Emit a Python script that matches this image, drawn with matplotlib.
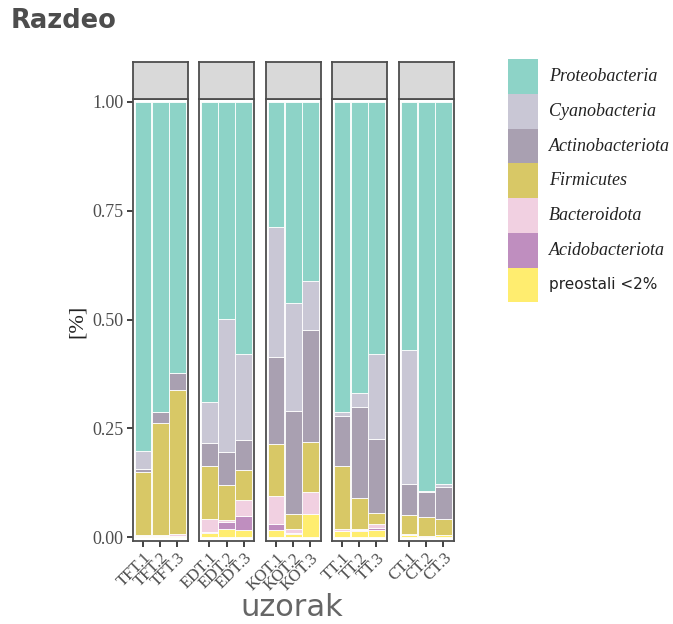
import matplotlib
matplotlib.use("Agg")
import matplotlib.pyplot as plt
from matplotlib.patches import Rectangle
import numpy as np

# ---------------- data ----------------
groups = ["TFT", "EDT", "KOT", "TT", "CT"]
samples = [[f"{g}.{i}" for i in (1, 2, 3)] for g in groups]
phyla = ["Proteobacteria", "Cyanobacteria", "Actinobacteriota", "Firmicutes",
         "Bacteroidota", "Acidobacteriota", "preostali <2%"]
colors = ["#8DD3C7", "#C9C7D5", "#A9A0B1", "#D8C866", "#F1D0E1", "#BF8EBF", "#FFED6F"]

# values per phylum (fractions), 15 samples in order TFT.1..CT.3
preostali       = [0.003, 0.002, 0.003,  0.010, 0.018, 0.016,  0.016, 0.008, 0.052,  0.013, 0.013, 0.015,  0.004, 0.001, 0.004]
acidobacteriota = [0.000, 0.000, 0.000,  0.002, 0.017, 0.033,  0.013, 0.001, 0.000,  0.000, 0.003, 0.006,  0.000, 0.000, 0.000]
bacteroidota    = [0.002, 0.003, 0.004,  0.029, 0.004, 0.035,  0.065, 0.010, 0.051,  0.005, 0.003, 0.009,  0.004, 0.001, 0.000]
firmicutes      = [0.144, 0.256, 0.331,  0.122, 0.080, 0.071,  0.120, 0.033, 0.115,  0.146, 0.071, 0.025,  0.043, 0.043, 0.037]
actinobacteriota= [0.007, 0.027, 0.038,  0.054, 0.076, 0.068,  0.200, 0.237, 0.258,  0.115, 0.209, 0.170,  0.071, 0.058, 0.073]
cyanobacteria   = [0.042, 0.000, 0.000,  0.094, 0.306, 0.197,  0.299, 0.250, 0.113,  0.008, 0.032, 0.196,  0.309, 0.003, 0.007]
proteobacteria  = [0.802, 0.712, 0.624,  0.689, 0.499, 0.580,  0.287, 0.461, 0.411,  0.713, 0.669, 0.579,  0.569, 0.894, 0.879]

stack_order = [proteobacteria, cyanobacteria, actinobacteriota, firmicutes,
               bacteroidota, acidobacteriota, preostali]
y_ticks = [0.0, 0.25, 0.5, 0.75, 1.0]
y_ticklabels = ["0.00", "0.25", "0.50", "0.75", "1.00"]

# ---------------- layout ----------------
W, H = 673, 624
fig = plt.figure(figsize=(W / 100, H / 100), dpi=100)

def fx(px):
    return px / W

def fy(py):
    return 1 - py / H

panel_x = [(133, 187.5), (199, 254), (266, 320.5), (332, 386.5), (399, 453.5)]
ptop, pbot = 99, 541
stop, sbot = 62, 98.5
border = "#4D4D4D"
txtgray = "#4D4D4D"
serif = ["Liberation Serif", "DejaVu Serif"]

ylo = (537 - 541) / 435.0
yhi = (537 - 99) / 435.0

data = np.array(stack_order)  # phyla x samples (top-to-bottom order)

for gi, (x0, x1) in enumerate(panel_x):
    ax = fig.add_axes([fx(x0), fy(pbot), fx(x1) - fx(x0), fy(ptop) - fy(pbot)])
    xs = np.arange(1, 4)
    cols = slice(gi * 3, gi * 3 + 3)
    bottom = np.zeros(3)
    for pi in range(len(phyla) - 1, -1, -1):
        vals = data[pi, cols]
        ax.bar(xs, vals, width=0.97, bottom=bottom, color=colors[pi],
               edgecolor="white", linewidth=0.6)
        bottom = bottom + vals
    ax.set_xlim(0.41, 3.59)
    ax.set_ylim(ylo, yhi)
    ax.set_xticks(xs)
    ax.set_xticklabels(samples[gi], rotation=45, ha="right", va="top",
                       rotation_mode="anchor", fontsize=12, color=txtgray,
                       family=serif)
    ax.tick_params(axis="x", length=4, width=1.3, color="#333333", pad=2.5)
    ax.set_yticks(y_ticks)
    if gi == 0:
        ax.set_yticklabels(y_ticklabels, fontsize=13, color=txtgray, family=serif)
        ax.tick_params(axis="y", length=4, width=1.3, color="#333333", pad=3)
    else:
        ax.tick_params(axis="y", length=0, labelleft=False)
    for s in ax.spines.values():
        s.set_color(border)
        s.set_linewidth(1.3)
    # strip
    sax = fig.add_axes([fx(x0), fy(sbot), fx(x1) - fx(x0), fy(stop) - fy(sbot)])
    sax.set_facecolor("#D9D9D9")
    sax.set_xticks([])
    sax.set_yticks([])
    for s in sax.spines.values():
        s.set_color(border)
        s.set_linewidth(1.3)

# axis labels and title
fig.text(fx(77), fy(321), "[%]", rotation=90, ha="center", va="center",
         fontsize=16, color="#222222", family=serif)
fig.text(fx(292), fy(607), "uzorak", ha="center", va="center",
         fontsize=22, color="#666666")
fig.text(fx(11), fy(21), "Razdeo", ha="left", va="center", fontsize=18.5,
         fontweight="bold", color="#4D4D4D")

# legend
lax = fig.add_axes([0, 0, 1, 1])
lax.set_xlim(0, W)
lax.set_ylim(H, 0)
lax.axis("off")
ky0, kh = 59.3, 34.7
for i, name in enumerate(phyla):
    y = ky0 + i * kh
    lax.add_patch(Rectangle((508, y), 29.5, kh, facecolor=colors[i], edgecolor="none"))
    if name.startswith("preostali"):
        lax.text(549, y + kh / 2, name, ha="left", va="center", fontsize=11, color="#222222")
    else:
        lax.text(549, y + kh / 2, name, ha="left", va="center", fontsize=13,
                 style="italic", family=serif, color="#222222")

fig.savefig("out.png", dpi=100)
